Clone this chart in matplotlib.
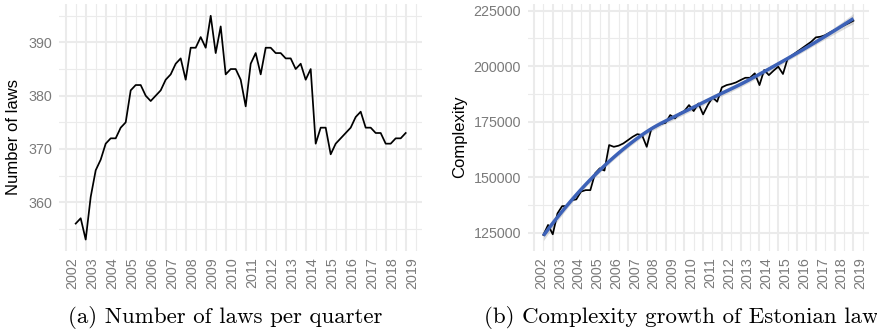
import numpy as np
import pandas as pd
import matplotlib
matplotlib.use('Agg')
import matplotlib.pyplot as plt
from matplotlib.ticker import MultipleLocator

plt.rcParams['font.family'] = ['Liberation Sans', 'DejaVu Sans']

# quarterly observations, 2002Q3 .. 2019Q1
quarters = pd.period_range('2002Q3', '2019Q1', freq='Q')
years = np.array([q.year + (q.quarter - 1) / 4 for q in quarters])

n_laws = [356, 357, 353, 361, 366, 368, 371, 372, 372, 374,
          375, 381, 382, 382, 380, 379, 380, 381, 383, 384,
          386, 387, 383, 389, 389, 391, 389, 395, 388, 393,
          384, 385, 385, 383, 378, 386, 388, 384, 389, 389,
          388, 388, 387, 387, 385, 386, 383, 385, 371, 374,
          374, 369, 371, 372, 373, 374, 376, 377, 374, 374,
          373, 373, 371, 371, 372, 372, 373]

complexity = [124000, 128500, 124300, 133700, 137000, 137000, 139700, 140000, 143500, 144200,
              144200, 151700, 154000, 153000, 164500, 163700, 164200, 165200, 166700, 168200,
              169400, 169000, 163700, 172000, 173000, 174000, 174500, 178000, 176500, 178700,
              179800, 182500, 179800, 183200, 178300, 182500, 186000, 184000, 190500, 191500,
              192000, 192700, 193800, 194800, 194800, 196800, 191500, 198300, 196000, 198000,
              199800, 196500, 203500, 205000, 206500, 208000, 209500, 211000, 213000, 213300,
              214000, 215200, 216300, 217300, 218400, 219400, 220500]

year_ticks = list(range(2002, 2020))


def loess(x, y, xs, span=0.75):
    # local quadratic fit with tricube weights (like R's loess defaults)
    x = np.asarray(x, float)
    y = np.asarray(y, float)
    n = len(x)
    q = int(np.floor(n * span))

    def row(x0):
        d = np.abs(x - x0)
        h = np.sort(d)[q - 1]
        w = np.where(d < h, (1 - (d / h) ** 3) ** 3, 0.0)
        X = np.column_stack([np.ones(n), x - x0, (x - x0) ** 2])
        XtW = X.T * w
        return np.linalg.solve(XtW @ X, XtW)[0]

    L = np.array([row(x0) for x0 in x])
    res = y - L @ y
    M = np.eye(n) - L
    delta1 = np.trace(M.T @ M)
    sigma = np.sqrt(np.sum(res ** 2) / delta1)
    Ls = np.array([row(x0) for x0 in xs])
    fit = Ls @ y
    se = sigma * np.sqrt(np.sum(Ls ** 2, axis=1))
    return fit, se


grid_col = '#ebebeb'
tick_col = '#7a7a7a'


def style(ax, ymajor, yminor):
    for s in ax.spines.values():
        s.set_visible(False)
    ax.set_xticks(year_ticks)
    ax.set_xticklabels([str(y) for y in year_ticks], rotation=90, ha='left', va='top')
    ax.xaxis.set_minor_locator(MultipleLocator(0.5))
    ax.yaxis.set_major_locator(MultipleLocator(ymajor))
    ax.yaxis.set_minor_locator(MultipleLocator(yminor))
    ax.grid(which='major', color=grid_col, linewidth=1.5)
    ax.grid(which='minor', color=grid_col, linewidth=0.8)
    ax.set_axisbelow(True)
    ax.tick_params(which='both', length=0, colors=tick_col, labelsize=10.3)
    ax.tick_params(axis='x', pad=5)
    ax.tick_params(axis='y', pad=5)
    ax.set_xlim(2001.675, 2019.825)


fig = plt.figure(figsize=(8.77, 3.34), dpi=100)
ax1 = fig.add_axes([0.0675, 0.2500, 0.4139, 0.7395])
ax2 = fig.add_axes([0.6019, 0.2500, 0.3889, 0.7395])

# (a) number of laws
ax1.plot(years, n_laws, color='black', linewidth=1.25)
style(ax1, 10, 5)
ax1.set_ylim(350.95, 397.3)
ax1.set_ylabel('Number of laws', fontsize=12, va='center')
ax1.yaxis.set_label_coords(-0.125, 0.46)

# (b) complexity with loess smooth
xs = np.linspace(years[0], years[-1], 80)
fit, se = loess(years, complexity, xs)
ax2.plot(years, complexity, color='black', linewidth=1.25)
ax2.fill_between(xs, fit - 2.0 * se, fit + 2.0 * se, color='#999999', alpha=0.35, linewidth=0)
ax2.plot(xs, fit, color='#3d62b8', linewidth=2.5, solid_capstyle='butt')
style(ax2, 25000, 12500)
ax2.set_ylim(117000, 228250)
ax2.set_ylabel('Complexity', fontsize=12, va='center')
ax2.yaxis.set_label_coords(-0.200, 0.46)

fig.text(0.257, 0.048, '(a) Number of laws per quarter', family='cmr10',
         fontsize=16.5, ha='center', va='center')
fig.text(0.777, 0.048, '(b) Complexity growth of Estonian law', family='cmr10',
         fontsize=16.5, ha='center', va='center')

fig.savefig('out.png', dpi=100)
